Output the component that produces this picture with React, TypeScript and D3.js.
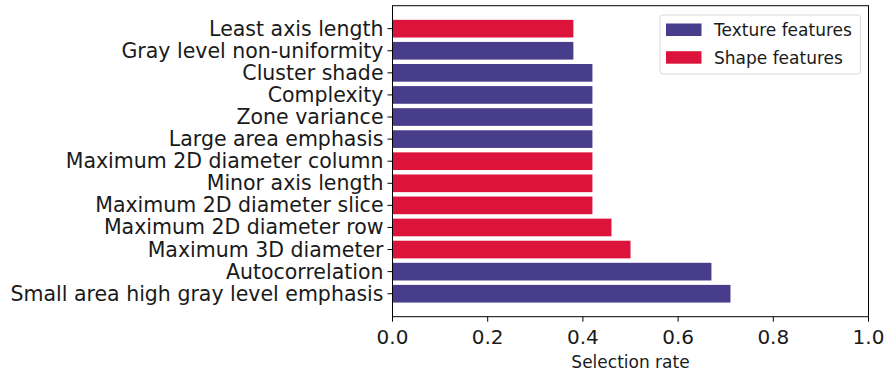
import React from "react";
import * as d3 from "d3";

const features = [
  "Small area high gray level emphasis",
  "Autocorrelation",
  "Maximum 3D diameter",
  "Maximum 2D diameter row",
  "Maximum 2D diameter slice",
  "Minor axis length",
  "Maximum 2D diameter column",
  "Large area emphasis",
  "Zone variance",
  "Complexity",
  "Cluster shade",
  "Gray level non-uniformity",
  "Least axis length",
];
const rates = [0.71, 0.67, 0.5, 0.46, 0.42, 0.42, 0.42, 0.42, 0.42, 0.42, 0.42, 0.38, 0.38];
const groups = [
  "Texture", "Texture", "Shape", "Shape", "Shape", "Shape", "Shape",
  "Texture", "Texture", "Texture", "Texture", "Texture", "Shape",
];
const xTicks = [0, 0.2, 0.4, 0.6, 0.8, 1.0];
const legendItems = [
  { key: "Texture", label: "Texture features" },
  { key: "Shape", label: "Shape features" },
];
const colors: Record<string, string> = { Texture: "#483D8B", Shape: "#DC143C" };

const W = 886;
const H = 376;
const left = 392.5;
const right = 868.5;
const top = 5.7;
const bottom = 316.7;
const font = "DejaVu Sans, sans-serif";

export default function App() {
  const x = d3.scaleLinear().domain([0, 1]).range([left, right]);
  const n = features.length;
  const pad = (n - 1 + 0.8) * 0.05;
  const y = d3
    .scaleLinear()
    .domain([-0.4 - pad, n - 1 + 0.4 + pad])
    .range([bottom, top]);
  const barH = y(0) - y(0.8);

  return (
    <svg
      width={W}
      height={H}
      style={{ position: "absolute", left: 0, top: 0, background: "#fff" }}
      fontFamily={font}
    >
      {features.map((f, i) => (
        <g key={f}>
          <rect
            x={x(0)}
            y={y(i) - barH / 2}
            width={x(rates[i]) - x(0)}
            height={barH}
            fill={colors[groups[i]]}
          />
          <line x1={left - 5} x2={left} y1={y(i)} y2={y(i)} stroke="#000" strokeWidth={1} />
          <text
            x={left - 9}
            y={y(i)}
            textAnchor="end"
            dominantBaseline="central"
            fontSize={20.5}
            fill="#1a1a1a"
          >
            {f}
          </text>
        </g>
      ))}
      {xTicks.map((t) => (
        <g key={t}>
          <line x1={x(t)} x2={x(t)} y1={bottom} y2={bottom + 5} stroke="#000" strokeWidth={1} />
          <text
            x={x(t)}
            y={bottom + 20}
            textAnchor="middle"
            dominantBaseline="central"
            fontSize={20}
            fill="#1a1a1a"
          >
            {d3.format(".1f")(t)}
          </text>
        </g>
      ))}
      <text
        x={(left + right) / 2}
        y={bottom + 45}
        textAnchor="middle"
        dominantBaseline="central"
        fontSize={17}
        fill="#1a1a1a"
      >
        Selection rate
      </text>
      <rect
        x={left}
        y={top}
        width={right - left}
        height={bottom - top}
        fill="none"
        stroke="#000"
        strokeWidth={1}
      />
      <g>
        <rect x={660} y={15} width={200.5} height={59} rx={3} fill="#fff" fillOpacity={0.8} stroke="#d9d9d9" />
        {legendItems.map((it, k) => (
          <g key={it.key}>
            <rect x={666} y={23.5 + k * 27.7} width={35.5} height={12.5} fill={colors[it.key]} />
            <text
              x={714}
              y={29.8 + k * 27.7}
              dominantBaseline="central"
              fontSize={17}
              fill="#1a1a1a"
            >
              {it.label}
            </text>
          </g>
        ))}
      </g>
    </svg>
  );
}
